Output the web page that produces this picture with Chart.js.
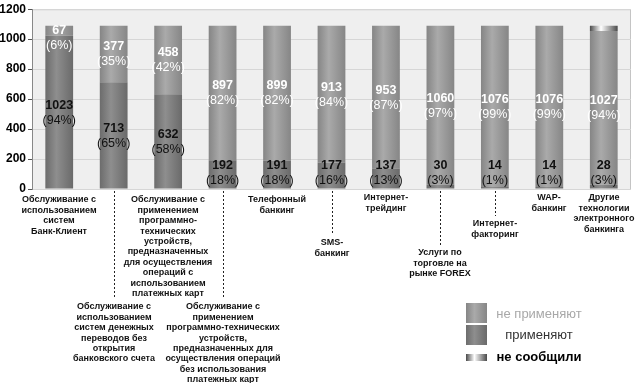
<!DOCTYPE html>
<html>
<head>
<meta charset="utf-8">
<script src="https://cdn.jsdelivr.net/npm/chart.js@4.4.0/dist/chart.umd.min.js"></script>
<style>
  html, body { margin: 0; padding: 0; background: #fff; }
  #wrap { width: 636px; height: 383px; }
</style>
</head>
<body>
<div id="wrap"><canvas id="myChart" width="636" height="383"></canvas></div>
<script>
// chart values
var categories = [
  ['Обслуживание с', 'использованием', 'систем', 'Банк-Клиент'],
  ['Обслуживание с', 'использованием', 'систем денежных', 'переводов без', 'открытия', 'банковского счета'],
  ['Обслуживание с', 'применением', 'программно-', 'технических', 'устройств,', 'предназначенных', 'для осуществления', 'операций с', 'использованием', 'платежных карт'],
  ['Обслуживание с', 'применением', 'программно-технических', 'устройств,', 'предназначенных для', 'осуществления операций', 'без использования', 'платежных карт'],
  ['Телефонный', 'банкинг'],
  ['SMS-', 'банкинг'],
  ['Интернет-', 'трейдинг'],
  ['Услуги по', 'торговле на', 'рынке FOREX'],
  ['Интернет-', 'факторинг'],
  ['WAP-', 'банкинг'],
  ['Другие', 'технологии', 'электронного', 'банкинга']
];
var applied        = [1023, 713, 632, 192, 191, 177, 137, 30, 14, 14, 28];
var appliedPct     = [94, 65, 58, 18, 18, 16, 13, 3, 1, 1, 3];
var notApplied     = [67, 377, 458, 897, 899, 913, 953, 1060, 1076, 1076, 1027];
var notAppliedPct  = [6, 35, 42, 82, 82, 84, 87, 97, 99, 99, 94];
var notReported    = [0, 0, 0, 0, 0, 0, 0, 0, 0, 0, 35];
var yTicks         = [0, 200, 400, 600, 800, 1000, 1200];

var seriesNames = ['применяют', 'не применяют', 'не сообщили'];

// layout of the category captions (top of first line, leader line or not)
var labelTop  = [200, 307, 200, 307, 200, 243, 198, 253, 224, 198, 198];
var hasLeader = [false, true, false, true, false, true, false, true, true, false, false];

var FONT = '"Liberation Sans", Arial, sans-serif';
var barPct = 0.51;

var gradStops = {
  applied:     ['#6c6c6c', '#8e8e8e', '#6a6a6a'],
  notApplied:  ['#858585', '#aaaaaa', '#868686'],
  notReported: ['#4a4a4a', '#ffffff', '#4a4a4a']
};

function makeGrad(c, x0, x1, stops) {
  var g = c.createLinearGradient(x0, 0, x1, 0);
  g.addColorStop(0, stops[0]);
  g.addColorStop(0.4, stops[1]);
  g.addColorStop(1, stops[2]);
  return g;
}

function barFill(stops) {
  return function (ctx) {
    var chart = ctx.chart;
    var xs = chart.scales.x;
    if (!chart.chartArea || !xs || ctx.dataIndex === undefined) return stops[1];
    var cx = xs.getPixelForValue(ctx.dataIndex);
    var w = chart.chartArea.width / categories.length * barPct;
    return makeGrad(chart.ctx, cx - w / 2, cx + w / 2, stops);
  };
}

var framePlugin = {
  id: 'frame',
  beforeDraw: function (chart) {
    var c = chart.ctx, a = chart.chartArea;
    c.save();
    c.fillStyle = '#efefef';
    c.fillRect(a.left, a.top, a.right - a.left, a.bottom - a.top);
    c.strokeStyle = '#c4c4c4';
    c.lineWidth = 1;
    c.strokeRect(a.left + 0.5, a.top + 0.5, a.right - a.left - 1, a.bottom - a.top);
    c.restore();
  },
  afterDatasetsDraw: function (chart) {
    var c = chart.ctx, a = chart.chartArea;
    c.save();
    c.textAlign = 'center';
    c.textBaseline = 'middle';
    [0, 1].forEach(function (di) {
      var meta = chart.getDatasetMeta(di);
      var vals = di === 0 ? applied : notApplied;
      var pcts = di === 0 ? appliedPct : notAppliedPct;
      c.fillStyle = di === 0 ? '#111' : '#fff';
      meta.data.forEach(function (el, i) {
        var mid = (el.y + el.base) / 2;
        mid = Math.min(mid, a.bottom - 16);
        mid = Math.max(mid, a.top + 28);
        c.font = 'bold 12.5px ' + FONT;
        c.fillText(String(vals[i]), el.x, mid - 7);
        c.font = '12.5px ' + FONT;
        c.fillText('(' + pcts[i] + '%)', el.x, mid + 8);
      });
    });
    c.restore();
  },
  afterDraw: function (chart) {
    var c = chart.ctx, a = chart.chartArea, xs = chart.scales.x;
    c.save();
    // category captions
    c.textAlign = 'center';
    c.textBaseline = 'middle';
    c.font = 'bold 9px ' + FONT;
    c.fillStyle = '#111';
    categories.forEach(function (lines, i) {
      var x = Math.round(xs.getPixelForValue(i));
      if (hasLeader[i]) {
        c.strokeStyle = '#222';
        c.setLineDash([2, 2]);
        c.beginPath();
        c.moveTo(x + 0.5, a.bottom + 2);
        c.lineTo(x + 0.5, labelTop[i] - 8);
        c.stroke();
        c.setLineDash([]);
      }
      lines.forEach(function (t, k) {
        c.fillText(t, x, labelTop[i] + k * 10.4);
      });
    });
    // legend
    var lx = 466, lw = 21;
    var items = [
      { top: 303, h: 20, stops: gradStops.notApplied, ty: 314, color: '#a8a8a8', font: '13px ' + FONT },
      { top: 325, h: 20, stops: gradStops.applied, ty: 335, color: '#333', font: '13px ' + FONT },
      { top: 354, h: 7, stops: gradStops.notReported, ty: 357, color: '#000', font: 'bold 13px ' + FONT }
    ];
    items.forEach(function (it, k) {
      c.fillStyle = makeGrad(c, lx, lx + lw, it.stops);
      c.fillRect(lx, it.top, lw, it.h);
      c.fillStyle = it.color;
      c.font = it.font;
      c.textAlign = 'center';
      c.fillText(seriesNames[[1, 0, 2][k]], 539, it.ty);
    });
    c.restore();
  }
};

var ctx = document.getElementById('myChart');
new Chart(ctx, {
  type: 'bar',
  data: {
    labels: categories,
    datasets: [
      { label: seriesNames[0], data: applied, backgroundColor: barFill(gradStops.applied) },
      { label: seriesNames[1], data: notApplied, backgroundColor: barFill(gradStops.notApplied) },
      { label: seriesNames[2], data: notReported, backgroundColor: barFill(gradStops.notReported) }
    ]
  },
  options: {
    responsive: false,
    animation: false,
    devicePixelRatio: 1,
    layout: { padding: { top: 6, right: 5, bottom: 194, left: 0 } },
    datasets: { bar: { categoryPercentage: barPct, barPercentage: 1, borderWidth: 0 } },
    plugins: { legend: { display: false }, tooltip: { enabled: false } },
    scales: {
      x: { stacked: true, display: false },
      y: {
        stacked: true,
        min: 0,
        max: 1200,
        afterBuildTicks: function (s) { s.ticks = yTicks.map(function (v) { return { value: v }; }); },
        afterFit: function (s) { s.width = 32; },
        ticks: {
          color: '#000',
          font: { family: FONT, size: 12, weight: 'bold' },
          padding: 2,
          callback: function (v) { return String(v); }
        },
        grid: { color: '#d6d6d6', tickColor: '#555', tickLength: 4 },
        border: { color: '#888' }
      }
    }
  },
  plugins: [framePlugin]
});
</script>
</body>
</html>
